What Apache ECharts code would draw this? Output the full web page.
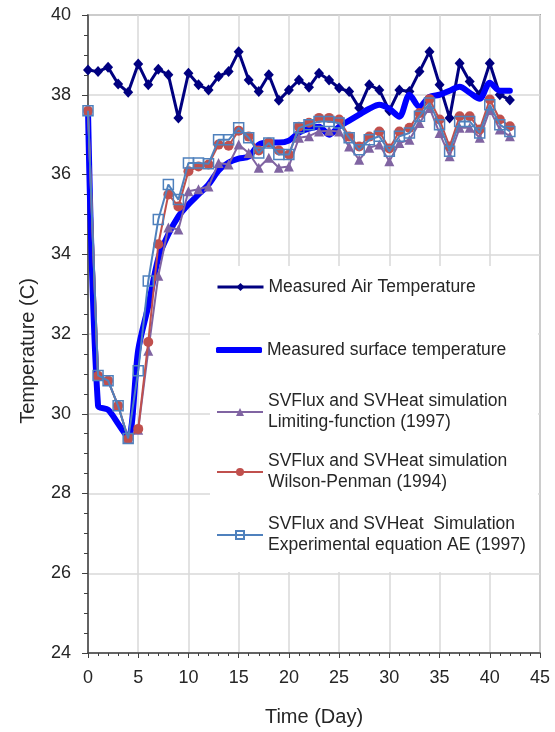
<!DOCTYPE html>
<html>
<head>
<meta charset="utf-8">
<style>html,body{margin:0;padding:0;background:#fff;}#chart{width:555px;height:732px;}</style>
<script src="https://cdn.jsdelivr.net/npm/echarts@6/dist/echarts.min.js"></script>
</head>
<body>
<div id="chart"></div>
<script>
const days = [0,1,2,3,4,5,6,7,8,9,10,11,12,13,14,15,16,17,18,19,20,21,22,23,24,25,26,27,28,29,30,31,32,33,34,35,36,37,38,39,40,41,42];
const airTemp = [38.62,38.58,38.69,38.27,38.06,38.77,38.25,38.64,38.5,37.42,38.54,38.25,38.12,38.46,38.58,39.08,38.37,38.08,38.5,37.86,38.12,38.37,38.19,38.54,38.37,38.17,38.08,37.67,38.25,38.12,37.6,38.12,38.08,38.58,39.08,38.25,37.42,38.79,38.33,38.0,38.79,38.0,37.87];
const surfaceTemp = [37.6,30.2,30.1,29.75,29.4,31.6,32.7,33.9,34.5,34.95,35.25,35.5,35.75,36.1,36.3,36.4,36.45,36.75,36.8,36.8,36.85,37.05,37.15,37.2,37.0,37.2,37.35,37.5,37.65,37.75,37.65,37.45,38.0,37.7,37.95,38.0,38.1,38.2,38.05,37.9,38.3,38.1,38.1];
const limitingFn = [37.6,30.95,30.83,30.2,29.38,29.6,31.58,33.46,34.67,34.62,35.58,35.63,35.7,36.29,36.25,36.75,36.54,36.17,36.42,36.17,36.2,36.92,36.96,37.08,37.1,37.08,36.7,36.37,36.67,36.75,36.33,36.79,36.87,37.29,37.67,37.04,36.46,37.17,37.17,36.92,37.62,37.13,36.96];
const wilsonPenman = [37.6,30.95,30.83,30.2,29.38,29.62,31.8,34.25,35.5,35.2,36.08,36.2,36.25,36.75,36.72,37.1,36.95,36.6,36.8,36.6,36.5,37.2,37.3,37.42,37.42,37.38,36.95,36.7,36.95,37.08,36.65,37.08,37.17,37.54,37.89,37.38,36.7,37.46,37.46,37.13,37.88,37.38,37.21];
const experimentalAE = [37.6,30.96,30.83,30.2,29.38,31.08,33.33,34.87,35.75,35.37,36.29,36.29,36.27,36.87,36.87,37.17,36.92,36.54,36.79,36.5,36.5,37.17,37.25,37.33,37.33,37.29,36.92,36.62,36.87,36.96,36.58,36.96,37.04,37.46,37.79,37.25,36.58,37.33,37.33,37.04,37.75,37.25,37.08];
const seriesNames = [
  'Measured Air Temperature',
  'Measured surface temperature',
  'SVFlux and SVHeat simulation\nLimiting-function (1997)',
  'SVFlux and SVHeat simulation\nWilson-Penman (1994)',
  'SVFlux and SVHeat  Simulation\nExperimental equation AE (1997)'
];
const xTitle = 'Time (Day)';
const yTitle = 'Temperature (C)';

const pair = arr => days.map((d, i) => [d, arr[i]]);
const FONT = '"Liberation Sans", Arial, sans-serif';
const TXT = '#262626';

function legendAt(item, top, twoLine, itemHeight) {
  return {
    data: [item], left: 216, top: top, orient: 'vertical', padding: 0,
    itemWidth: 46, itemHeight: itemHeight || 10, selectedMode: false,
    lineStyle: { width: 'inherit' },
    textStyle: { fontSize: 17.5, lineHeight: 21, color: TXT, fontFamily: FONT, padding: twoLine ? [21,0,0,0] : 0 }
  };
}

const chart = echarts.init(document.getElementById('chart'), null, {renderer: 'canvas'});
chart.setOption({
  animation: false,
  backgroundColor: '#fff',
  grid: { left: 88, right: 15, top: 15, bottom: 77, show: true, borderColor: '#a6a6a6', borderWidth: 2, backgroundColor: 'transparent' },
  graphic: [{ type: 'rect', z: 1, shape: { x: 210, y: 266, width: 328, height: 306 }, style: { fill: '#fff' } }],
  xAxis: {
    type: 'value', min: 0, max: 45, interval: 5,
    name: xTitle, nameLocation: 'middle', nameGap: 54,
    nameTextStyle: { fontSize: 20, color: TXT, fontFamily: FONT },
    axisLine: { lineStyle: { color: '#404040', width: 1.5 } },
    axisTick: { show: true, length: 5, lineStyle: { color: '#404040' } },
    minorTick: { show: true, splitNumber: 5, length: 3, lineStyle: { color: '#404040' } },
    axisLabel: { fontSize: 18, color: TXT, fontFamily: FONT, margin: 16 },
    splitLine: { show: true, lineStyle: { color: '#d9d9d9', width: 1.5 } }
  },
  yAxis: {
    type: 'value', min: 24, max: 40, interval: 2,
    name: yTitle, nameLocation: 'middle', nameGap: 50,
    nameTextStyle: { fontSize: 20, color: TXT, fontFamily: FONT, padding: [0, 34, 0, 0] },
    axisLine: { show: true, lineStyle: { color: '#404040', width: 1.5 } },
    axisTick: { show: true, length: 6, lineStyle: { color: '#404040' } },
    minorTick: { show: true, splitNumber: 4, length: 4, lineStyle: { color: '#404040' } },
    axisLabel: { fontSize: 18, color: TXT, fontFamily: FONT, margin: 17 },
    splitLine: { show: true, lineStyle: { color: '#d9d9d9', width: 1.5 } }
  },
  legend: [
    legendAt(seriesNames[0], 276.5, false),
    legendAt({ name: seriesNames[1], icon: 'roundRect' }, 339.5, false, 6),
    legendAt(seriesNames[2], 380.5, true),
    legendAt(seriesNames[3], 440.5, true),
    legendAt(seriesNames[4], 503.5, true)
  ],
  series: [
    { name: seriesNames[0], type: 'line', data: pair(airTemp), z: 2,
      color: '#000080', symbol: 'diamond', symbolSize: [10, 11], showAllSymbol: true,
      lineStyle: { color: '#000080', width: 3 }, itemStyle: { color: '#000080' } },
    { name: seriesNames[1], type: 'line', data: pair(surfaceTemp), z: 3,
      color: '#0000ff', symbol: 'none', smooth: 0.3,
      lineStyle: { color: '#0000ff', width: 6, cap: 'round', join: 'round' }, itemStyle: { color: '#0000ff' } },
    { name: seriesNames[2], type: 'line', data: pair(limitingFn), z: 4,
      color: '#8064a2', symbol: 'triangle', symbolSize: 10, showAllSymbol: true,
      lineStyle: { color: '#8064a2', width: 2 }, itemStyle: { color: '#8064a2' } },
    { name: seriesNames[3], type: 'line', data: pair(wilsonPenman), z: 5,
      color: '#c0504d', symbol: 'circle', symbolSize: 10, showAllSymbol: true,
      lineStyle: { color: '#c0504d', width: 2 }, itemStyle: { color: '#c0504d' } },
    { name: seriesNames[4], type: 'line', data: pair(experimentalAE), z: 6,
      color: '#4f81bd', symbol: 'rect', symbolSize: 10, showAllSymbol: true,
      lineStyle: { color: '#4f81bd', width: 2 },
      itemStyle: { color: 'rgba(255,255,255,0)', borderColor: '#4f81bd', borderWidth: 1.5 } }
  ]
});
</script>
</body>
</html>
